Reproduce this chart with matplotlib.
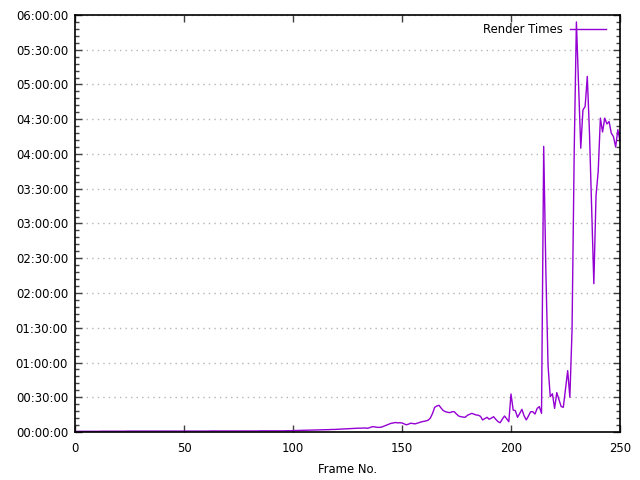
import matplotlib
matplotlib.use('Agg')
import matplotlib.pyplot as plt
from matplotlib.ticker import MultipleLocator, FuncFormatter

# render time per frame, in minutes
frames = list(range(0, 251))
render_minutes = [
    # 0-49
    0.5, 0.5, 0.6, 0.6, 0.6, 0.6, 0.6, 0.6, 0.6, 0.6,
    0.6, 0.6, 0.7, 0.7, 0.7, 0.7, 0.7, 0.7, 0.7, 0.7,
    0.7, 0.7, 0.7, 0.7, 0.8, 0.8, 0.8, 0.8, 0.8, 0.8,
    0.8, 0.8, 0.8, 0.8, 0.8, 0.8, 0.8, 0.8, 0.8, 0.8,
    0.8, 0.8, 0.8, 0.8, 0.8, 0.8, 0.8, 0.8, 0.8, 0.8,
    # 50-99
    0.8, 0.8, 0.8, 0.8, 0.8, 0.8, 0.8, 0.8, 0.8, 0.8,
    0.8, 0.8, 0.9, 0.9, 0.9, 0.9, 0.9, 0.9, 0.9, 0.9,
    0.9, 0.9, 0.9, 0.9, 0.9, 0.9, 0.9, 0.9, 0.9, 0.9,
    0.9, 0.9, 0.9, 0.9, 0.9, 1.0, 1.0, 1.0, 1.0, 1.0,
    1.0, 1.0, 1.0, 1.0, 1.0, 1.0, 1.0, 1.1, 1.1, 1.1,
    # 100-149
    1.2, 1.3, 1.3, 1.4, 1.4, 1.5, 1.5, 1.6, 1.6, 1.7,
    1.7, 1.8, 1.8, 1.9, 1.9, 2.0, 2.0, 2.1, 2.2, 2.2,
    2.3, 2.4, 2.5, 2.6, 2.7, 2.8, 2.9, 3.0, 3.1, 3.2,
    3.3, 3.3, 3.4, 3.5, 3.2, 3.6, 4.4, 4.6, 4.2, 4.0,
    4.0, 4.5, 5.2, 6.0, 6.8, 7.5, 7.8, 8.2, 7.9, 8.0,
    # 150-199
    7.8, 7.0, 6.2, 6.8, 7.6, 7.3, 7.0, 7.6, 8.3, 8.8,
    9.2, 9.6, 10.2, 12.0, 16.0, 21.3, 22.5, 23.0, 20.5, 18.4,
    17.5, 17.0, 16.7, 17.5, 17.5, 15.5, 13.8, 13.2, 12.9, 12.7,
    14.4, 15.2, 16.1, 15.4, 14.7, 14.5, 13.5, 10.4, 11.5, 12.7,
    11.0, 12.0, 13.2, 11.0, 9.0, 8.0, 11.0, 13.8, 11.5, 8.9,
    # 200-250
    32.8, 19.0, 18.4, 12.7, 16.0, 19.6, 14.0, 10.4, 13.8, 17.5,
    17.5, 15.5, 20.4, 21.9, 16.1, 246.6, 138.0, 57.0, 30.5, 33.0,
    20.4, 34.0, 28.0, 22.0, 21.3, 37.0, 53.0, 30.0, 88.0, 243.0,
    354.0, 300.0, 245.0, 278.0, 281.0, 307.0, 258.0, 192.0, 128.0, 204.0,
    225.0, 271.0, 259.0, 271.0, 266.0, 268.0, 258.0, 255.0, 246.0, 261.0,
    251.0,
]


def hms(v, pos):
    secs = int(round(v * 60))
    return '%02d:%02d:%02d' % (secs // 3600, (secs % 3600) // 60, secs % 60)


plt.rcParams['font.family'] = 'DejaVu Sans'
plt.rcParams['font.size'] = 8.4

fig = plt.figure(figsize=(6.4, 4.8), dpi=100)
ax = fig.add_axes([75 / 640, 1 - 432 / 480, 545 / 640, 417 / 480])

ax.plot(frames, render_minutes, color='#9400d3', lw=1.0, label='Render Times')

ax.set_xlim(0, 250)
ax.set_ylim(0, 360)
ax.xaxis.set_major_locator(MultipleLocator(50))
ax.yaxis.set_major_locator(MultipleLocator(30))
ax.yaxis.set_minor_locator(MultipleLocator(6))
ax.yaxis.set_major_formatter(FuncFormatter(hms))

ax.tick_params(which='both', direction='in', top=True, right=True,
               color='#404040', width=1.0)
ax.tick_params(which='major', length=5)
ax.tick_params(which='minor', length=3)
ax.tick_params(axis='x', which='minor', top=False, bottom=False)
ax.tick_params(axis='x', pad=7)
ax.tick_params(axis='y', pad=5)

ax.grid(axis='y', which='major', color='#b4b4b4', ls=(0, (1, 3)), lw=1.0)
for s in ax.spines.values():
    s.set_linewidth(1.2)
    s.set_color('black')

ax.set_xlabel('Frame No.', labelpad=6)
ax.legend(loc='upper right', bbox_to_anchor=(1 - 6 / 545, 1), frameon=False,
          markerfirst=False, handlelength=3.1, borderaxespad=0.3,
          handletextpad=0.6)

fig.savefig('out.png', dpi=100)
